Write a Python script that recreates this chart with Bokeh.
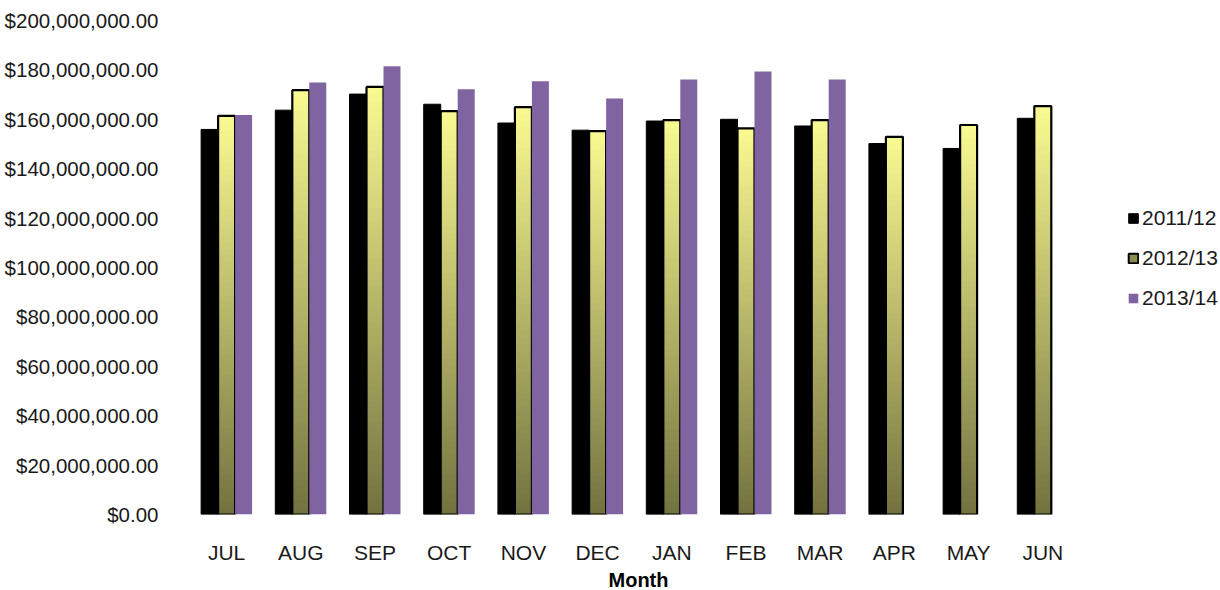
import numpy as np
from bokeh.plotting import figure
from bokeh.models import (ColumnDataSource, FixedTicker, NumeralTickFormatter,
                          Legend, LegendItem, Title)
from bokeh.embed import file_html
from bokeh.resources import INLINE

# ---- data ----
months = ["JUL", "AUG", "SEP", "OCT", "NOV", "DEC", "JAN", "FEB", "MAR", "APR", "MAY", "JUN"]
fy_2011_12 = [155.9e6, 163.7e6, 170.2e6, 166.1e6, 158.5e6, 155.6e6, 159.3e6, 160.0e6, 157.3e6, 150.2e6, 148.2e6, 160.4e6]
fy_2012_13 = [161.4e6, 171.8e6, 173.1e6, 163.3e6, 164.9e6, 155.2e6, 159.7e6, 156.3e6, 159.7e6, 152.9e6, 157.7e6, 165.3e6]
fy_2013_14 = [161.7e6, 174.9e6, 181.5e6, 172.2e6, 175.4e6, 168.4e6, 176.1e6, 179.4e6, 176.1e6]
series_names = ["2011/12", "2012/13", "2013/14"]
y_ticks = [0, 20e6, 40e6, 60e6, 80e6, 100e6, 120e6, 140e6, 160e6, 180e6, 200e6]

FONT = "Liberation Sans"
BAR_W = 0.229
OFFS = [-BAR_W, 0.0, BAR_W]
GRAD_TOP = np.array([0xFA, 0xFA, 0x92])
GRAD_BOT = np.array([0x72, 0x72, 0x40])
NBANDS = 60

FRAME_LEFT = 189
CAT_PX = 74.2
W, H = 1220, 590
x_end = -0.5 + (W - FRAME_LEFT) / CAT_PX

p = figure(width=W, height=H, output_backend="svg", toolbar_location=None,
           x_range=(-0.5, x_end), y_range=(0, 200e6),
           min_border_left=FRAME_LEFT, min_border_right=0,
           min_border_top=20, min_border_bottom=74)
p.outline_line_color = None
p.xgrid.visible = False
p.ygrid.visible = False
p.background_fill_color = "white"
p.border_fill_color = "white"

idx = np.arange(len(months))

# 2011/12 black bars
s1 = ColumnDataSource(dict(left=idx + OFFS[0] - BAR_W / 2, right=idx + OFFS[0] + BAR_W / 2,
                           top=fy_2011_12, bottom=[0] * len(months)))
r1 = p.quad(left="left", right="right", top="top", bottom="bottom", source=s1,
            fill_color="black", line_color="black", line_width=1)

# 2012/13 gradient bars built from bands
bl, br, bb, bt, bc = [], [], [], [], []
for i, v in enumerate(fy_2012_13):
    step = v / NBANDS
    for k in range(NBANDS):
        f = (k + 0.5) / NBANDS
        c = GRAD_BOT + (GRAD_TOP - GRAD_BOT) * f
        bl.append(i + OFFS[1] - BAR_W / 2)
        br.append(i + OFFS[1] + BAR_W / 2)
        bb.append(k * step)
        bt.append(min(v, (k + 1.6) * step))
        bc.append("#%02x%02x%02x" % tuple(int(round(x)) for x in c))
p.quad(left=bl, right=br, bottom=bb, top=bt, fill_color=bc, line_color=None)
s2 = ColumnDataSource(dict(left=idx + OFFS[1] - BAR_W / 2, right=idx + OFFS[1] + BAR_W / 2,
                           top=fy_2012_13, bottom=[0] * len(months)))
p.quad(left="left", right="right", top="top", bottom="bottom", source=s2,
       fill_alpha=0, line_color="black", line_width=2.2)

# 2013/14 purple bars
n3 = len(fy_2013_14)
s3 = ColumnDataSource(dict(left=idx[:n3] + OFFS[2] - BAR_W / 2, right=idx[:n3] + OFFS[2] + BAR_W / 2,
                           top=fy_2013_14, bottom=[0] * n3))
r3 = p.quad(left="left", right="right", top="top", bottom="bottom", source=s3,
            fill_color="#8064a2", line_color=None)

# legend proxy for gradient series (no visible mark in the plot)
nan = float("nan")
r2 = p.quad(left=[nan], right=[nan], top=[nan], bottom=[nan], fill_color="#8c8c52",
            line_color="black", line_width=2)

legend = Legend(items=[LegendItem(label=series_names[0], renderers=[r1]),
                       LegendItem(label=series_names[1], renderers=[r2]),
                       LegendItem(label=series_names[2], renderers=[r3])],
                location=(1127 - FRAME_LEFT, 516 - 312),
                glyph_width=12, glyph_height=12, label_standoff=3,
                label_height=23, spacing=16, padding=0, margin=0,
                border_line_color=None, background_fill_alpha=0,
                label_text_font=FONT, label_text_font_size="21px",
                label_text_color="#1a1a1a")
p.add_layout(legend)

# axes
p.xaxis.ticker = FixedTicker(ticks=list(range(len(months))))
p.xaxis.major_label_overrides = {i: m for i, m in enumerate(months)}
p.xaxis.axis_line_color = None
p.xaxis.major_tick_line_color = None
p.xaxis.minor_tick_line_color = None
p.xaxis.major_label_standoff = 20
p.xaxis.major_label_text_font = FONT
p.xaxis.major_label_text_font_size = "21px"
p.xaxis.major_label_text_color = "#1a1a1a"

p.yaxis.ticker = FixedTicker(ticks=y_ticks)
p.yaxis.formatter = NumeralTickFormatter(format="$0,0.00")
p.yaxis.axis_line_color = None
p.yaxis.major_tick_line_color = None
p.yaxis.minor_tick_line_color = None
p.yaxis.major_label_standoff = 25
p.yaxis.major_label_text_font = FONT
p.yaxis.major_label_text_font_size = "20.5px"
p.yaxis.major_label_text_color = "#1a1a1a"

p.add_layout(Title(text="Month", align="left", offset=608 - FRAME_LEFT,
                   text_font=FONT, text_font_size="20px", text_font_style="bold",
                   text_color="black", standoff=0), "below")

open("out.html", "w").write(file_html(p, INLINE))
